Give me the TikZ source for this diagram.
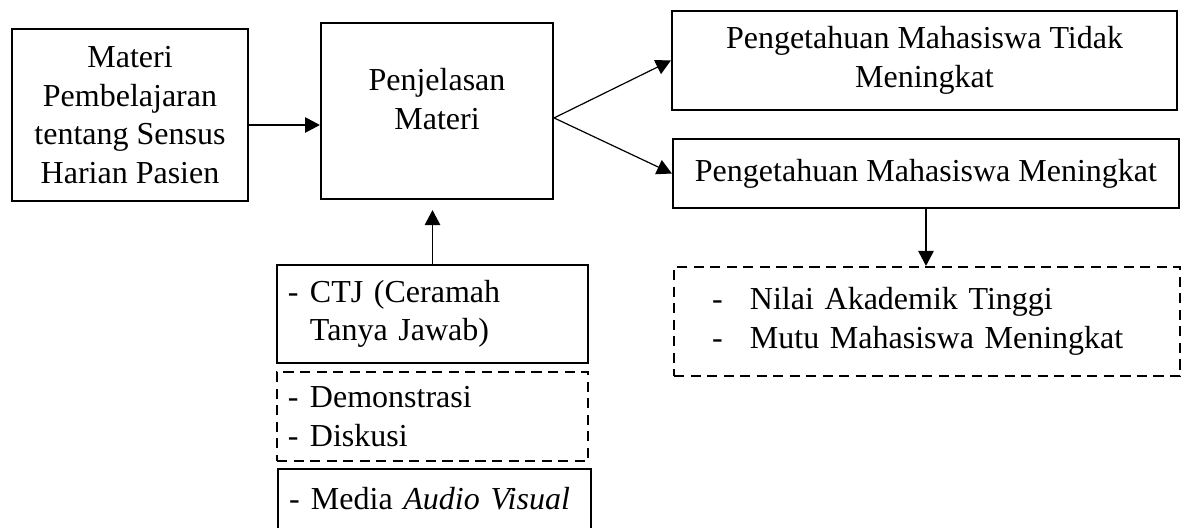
\documentclass[tikz,border=0pt,12pt]{standalone}
\usepackage{fontspec}
\setmainfont{Liberation Serif}
\usetikzlibrary{arrows.meta}
\newcommand{\butir}[2][8.25pt]{\makebox[#1][l]{-}#2}

\begin{document}
\begin{tikzpicture}[x=0.375pt,y=-0.375pt,
  kotak/.style={draw,line width=0.8pt,align=center,inner sep=0pt},
  putus/.style={kotak,dash pattern=on 3.8pt off 2.4pt},
  panah/.style={-{Triangle[length=5.6pt,width=5.8pt]},line width=0.45pt}]
\clip (0,0) rectangle (1186,528);

\node[kotak,minimum width=88.5pt,minimum height=64.5pt] (materi) at (130,115)
  {Materi\\Pembelajaran\\tentang Sensus\\Harian Pasien};
\node[kotak,minimum width=87pt,minimum height=66pt,text depth=9pt] (penjelasan) at (437,111)
  {Penjelasan\\Materi};
\node[kotak,minimum width=189.4pt,minimum height=37.1pt] (tidak) at (924.5,60.5)
  {Pengetahuan Mahasiswa Tidak\\Meningkat};
\node[kotak,minimum width=189.75pt,minimum height=25.9pt] (meningkat) at (926,173.5)
  {Pengetahuan Mahasiswa Meningkat};
\node[putus,align=left,inner xsep=14.25pt,text width=161.25pt,minimum height=40.9pt] (hasil) at (927,321.5)
  {\butir[14.25pt]{Nilai Akademik Tinggi}\\\butir[14.25pt]{Mutu Mahasiswa Meningkat}};

\node[kotak,align=left,inner xsep=4.1pt,text width=108.4pt,minimum height=36.75pt] (ctj) at (432.5,314)
  {\butir{CTJ (Ceramah}\\\hspace*{8.25pt}Tanya Jawab)};
\node[putus,align=left,inner xsep=4.1pt,text width=108.4pt,minimum height=33.4pt] (demo) at (432.5,416.5)
  {\butir{Demonstrasi}\\\butir{Diskusi}};
\node[kotak,align=left,anchor=north west,inner xsep=4.1pt,inner ysep=6.75pt,text width=109.2pt,text depth=15pt] (media) at (277,468)
  {\butir{Media \textit{Audio Visual}}};

\coordinate (cabang) at ([yshift=-2.6pt]penjelasan.east);
\draw[panah] ([yshift=-3.75pt]materi.east) -- ([yshift=-3.75pt]materi.east -| penjelasan.west);
\draw[panah] (cabang) -- (tidak.west);
\draw[panah] (cabang) -- (meningkat.west);
\draw[panah] (meningkat.south) -- (meningkat.south |- hasil.north);
\draw[panah,shorten >=3.75pt] (ctj.north) -- (ctj.north |- penjelasan.south);
\end{tikzpicture}
\end{document}
